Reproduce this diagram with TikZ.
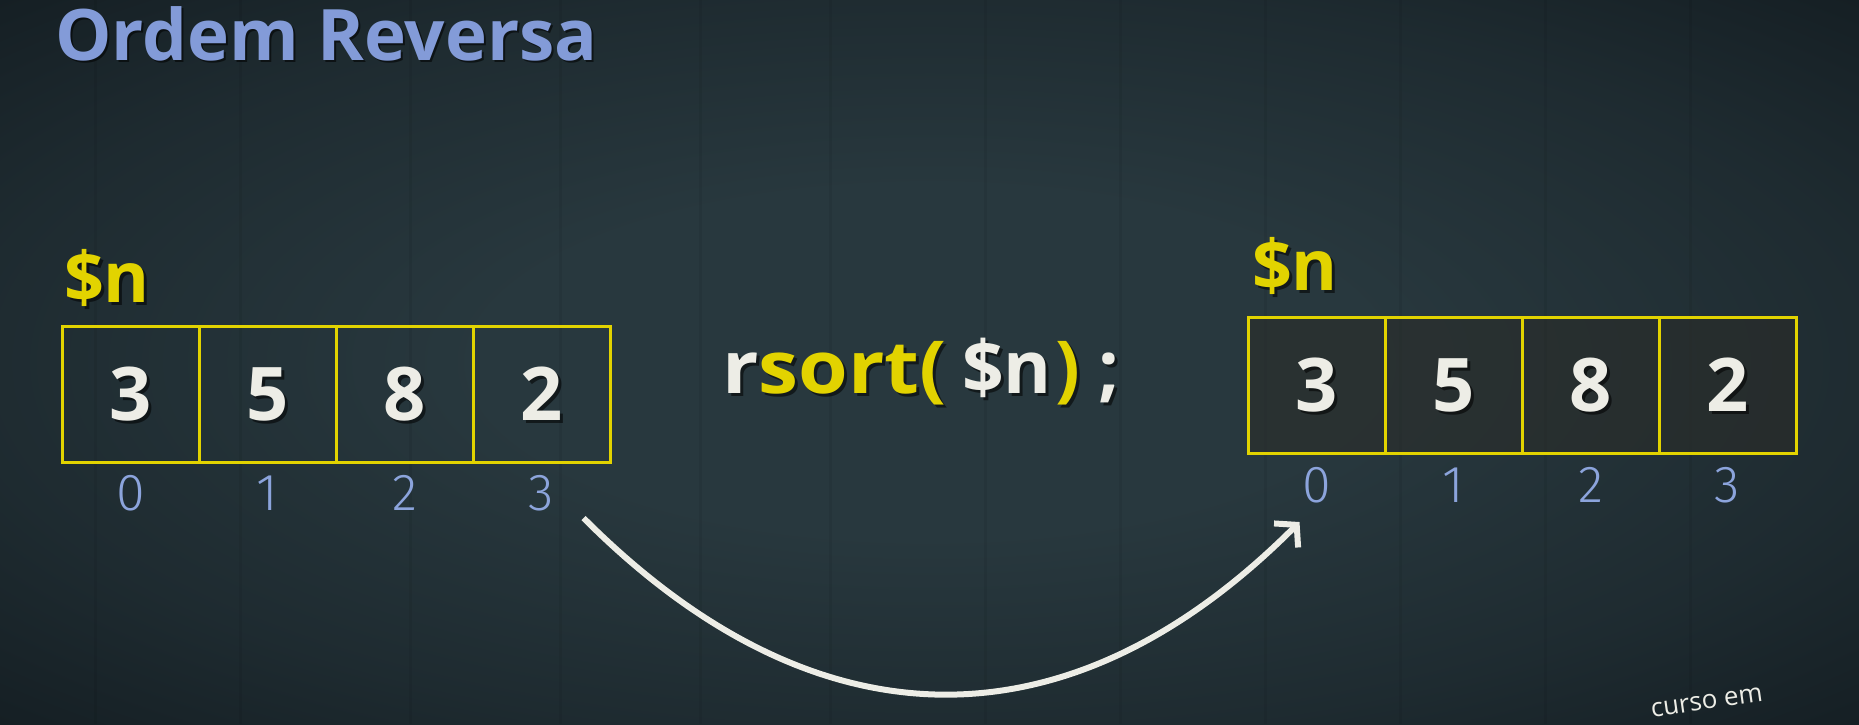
\documentclass[tikz,border=0pt]{standalone}
\usepackage{fontspec}
\setmainfont{Open Sans}
\newfontfamily\lightfont{Fira Sans Light}
\usetikzlibrary{arrows.meta}

\definecolor{bgin}{HTML}{28383E}
\definecolor{bgout}{HTML}{070C10}
\definecolor{titleblue}{HTML}{839BD8}
\definecolor{hl}{HTML}{E2D300}
\definecolor{digit}{HTML}{EDEDE6}
\definecolor{idx}{HTML}{8CA4DC}
\definecolor{cellshade}{HTML}{2B2C28}

% soft glow behind the slide
\pgfdeclareradialshading{slideglow}{\pgfpoint{0bp}{0bp}}{%
  color(0bp)=(bgin); color(12bp)=(bgin); color(26bp)=(bgin!70!bgout);
  color(40bp)=(bgin!30!bgout); color(52bp)=(bgout); color(75bp)=(bgout)}

\begin{document}
\begin{tikzpicture}[x=1pt, y=-1pt,
  every node/.style={inner sep=0pt, outer sep=0pt},
  titlefont/.style={font=\bfseries\fontsize{71}{82}\selectfont},
  namefont/.style={font=\bfseries\fontsize{70}{82}\selectfont},
  codefont/.style={font=\bfseries\fontsize{73}{84}\selectfont},
  digitfont/.style={font=\bfseries\fontsize{74}{86}\selectfont},
  idxfont/.style={font=\lightfont\fontsize{52}{60}\selectfont, text=idx},
  dropshadow/.style={text=black, opacity=0.55},
  cell/.style={draw=hl, line width=3pt, minimum width=137pt, minimum height=136pt},
  sortedcell/.style={cell, fill=cellshade, fill opacity=0.55},
  arrowline/.style={draw=digit, line width=6pt,
    -{Straight Barb[length=15pt, width=34pt, line width=6pt]}}
]
\useasboundingbox (0,0) rectangle (1859,724);

% background with faint plank seams
\shade[shading=slideglow] (0,0) rectangle (1859,724);
\foreach \px in {95,240,410,560,700,830,985,1120,1265,1400,1545,1690}
  \draw[black, opacity=0.06, line width=3pt] (\px,0) -- (\px,724);

% title
\node[titlefont, dropshadow, anchor=base west] (titleshadow) at (57,62) {Ordem Reversa};
\node[titlefont, text=titleblue, anchor=base west] (title) at (55,60) {Ordem Reversa};

% original array
\node[namefont, dropshadow, anchor=base west] (Lnameshadow) at (67,305) {\$n};
\node[namefont, text=hl, anchor=base west] (Lname) at (64,302) {\$n};
\foreach \v [count=\i from 0] in {3,5,8,2} {
  \node[cell] (L\i) at ({130.5+137*\i},394) {};
  \node[digitfont, dropshadow] (Ls\i) at ([shift={(3,3)}]L\i.center) {\v};
  \node[digitfont, text=digit] (Ld\i) at (L\i.center) {\v};
  \node[idxfont] (Li\i) at ({130.5+137*\i},493) {\i};
}

% function call, each piece in a box of fixed width
\newcommand{\callparts}[5]{%
  \makebox[240pt][l]{\scalebox{1.1}[1]{\textcolor{#1}{r}\textcolor{#2}{sort(}}}%
  \makebox[93pt][l]{\textcolor{#3}{\$n}}%
  \makebox[43pt][l]{\textcolor{#4}{)}}%
  \textcolor{#5}{;}}
\node[codefont, dropshadow, anchor=base west] (callshadow) at (725,396)
  {\callparts{black}{black}{black}{black}{black}};
\node[codefont, anchor=base west] (call) at (722,393)
  {\callparts{digit}{hl}{digit}{hl}{digit}};

% sorted array
\node[namefont, dropshadow, anchor=base west] (Rnameshadow) at (1255,293) {\$n};
\node[namefont, text=hl, anchor=base west] (Rname) at (1252,290) {\$n};
\foreach \v [count=\i from 0] in {3,5,8,2} {
  \node[sortedcell] (R\i) at ({1316.5+137*\i},385) {};
  \node[digitfont, dropshadow] (Rs\i) at ([shift={(3,3)}]R\i.center) {\v};
  \node[digitfont, text=digit] (Rd\i) at (R\i.center) {\v};
  \node[idxfont] (Ri\i) at ({1316.5+137*\i},485) {\i};
}

% curved arrow from the old last index to the new first index
\coordinate (astart) at ([shift={(42,25)}]Li3.center);
\coordinate (aend) at ([shift={(-17,37)}]Ri0.center);
\draw[arrowline] (astart) .. controls (815,750) and (1068,754) .. (aend);

% watermark
\node[font=\fontsize{26}{28}\selectfont, text=digit, rotate=8, anchor=base west] (mark) at (1652,717) {curso em};
\end{tikzpicture}
\end{document}
